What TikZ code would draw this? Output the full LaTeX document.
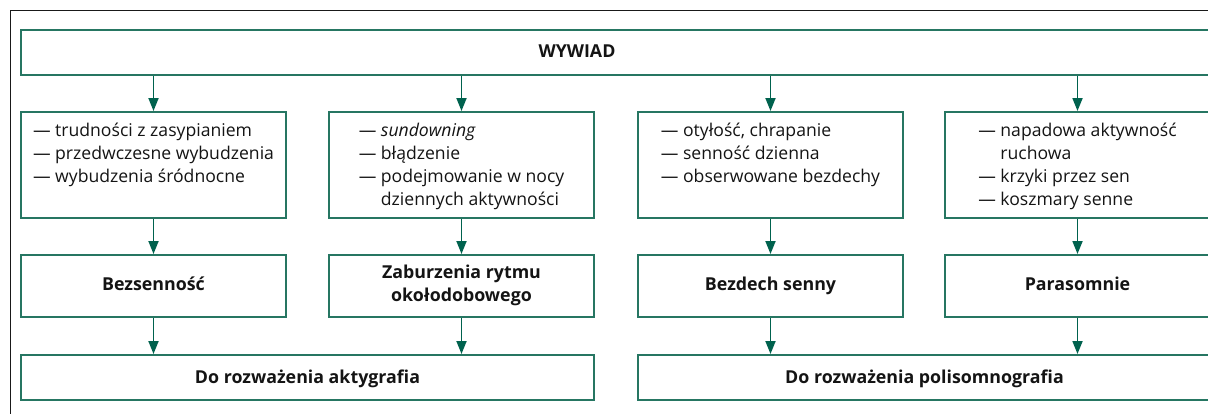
\documentclass[tikz,border=0pt]{standalone}
\usepackage{fontspec}
\setmainfont{Open Sans}
\usetikzlibrary{arrows.meta}
\definecolor{boxgreen}{RGB}{38,118,98}
\definecolor{arrgreen}{RGB}{0,98,78}
\definecolor{txt}{RGB}{20,20,20}
\tikzset{
  box/.style={draw=boxgreen, line width=2pt, inner sep=0pt, anchor=north west, fill=none},
  wbox/.style={box, minimum width=265pt},
  items/.style={anchor=base, inner sep=0pt, text=txt, font=\fontsize{17.6}{23}\selectfont},
  head/.style={anchor=base, inner sep=0pt, text=txt, align=center, font=\fontsize{17.8}{23}\selectfont\bfseries},
  arr/.style={draw=arrgreen, line width=1.8pt, -{Triangle[length=13pt,width=10pt]}},
  frame/.style={draw=black!90, line width=1.6pt}
}
\newcommand{\dsh}{—}
\begin{document}
\begin{tikzpicture}[x=1pt,y=-1pt]
\useasboundingbox (0,0) rectangle (1208,413);
\clip (0,0) rectangle (1208,413);
\fill[white] (0,0) rectangle (1208,413);
\draw[frame] (10.5,430) -- (10.5,10.5) -- (1230,10.5);

% top box
\node[box, minimum width=1200pt, minimum height=45pt] (wy) at (20,29) {};
\node[head] (wyt) at (577,57.5) {WYWIAD};

% row 2
\node[wbox, minimum height=106pt] (b1) at (20,111) {};
\node[wbox, minimum height=106pt] (b2) at (328,111) {};
\node[wbox, minimum height=106pt] (b3) at (637,111) {};
\node[wbox, minimum height=106pt] (b4) at (944,111) {};

\node[items] (t1) at (b1.north |- 0,136) {\begin{tabular}[t]{@{}l@{\ }l@{}}
\dsh & trudności z zasypianiem\\
\dsh & przedwczesne wybudzenia\\
\dsh & wybudzenia śródnocne
\end{tabular}};
\node[items] (t2) at (b2.north |- 0,136) {\begin{tabular}[t]{@{}l@{\ }l@{}}
\dsh & \textit{sundowning}\\
\dsh & błądzenie\\
\dsh & podejmowanie w nocy\\
 & dziennych aktywności
\end{tabular}};
\node[items] (t3) at (b3.north |- 0,136) {\begin{tabular}[t]{@{}l@{\ }l@{}}
\dsh & otyłość, chrapanie\\
\dsh & senność dzienna\\
\dsh & obserwowane bezdechy
\end{tabular}};
\node[items] (t4) at (b4.north |- 0,136) {\begin{tabular}[t]{@{}l@{\ }l@{}}
\dsh & napadowa aktywność\\
 & ruchowa\\
\dsh & krzyki przez sen\\
\dsh & koszmary senne
\end{tabular}};

% row 3
\node[wbox, minimum height=62pt] (c1) at (20,254) {};
\node[wbox, minimum height=62pt] (c2) at (328,254) {};
\node[wbox, minimum height=62pt] (c3) at (637,254) {};
\node[wbox, minimum height=62pt] (c4) at (944,254) {};
\node[head] (h1) at (c1.north |- 0,290.5) {Bezsenność};
\node[head] (h2) at (c2.north |- 0,278.5) {\begin{tabular}[t]{@{}c@{}}Zaburzenia rytmu\\okołodobowego\end{tabular}};
\node[head] (h3) at (c3.north |- 0,290.5) {Bezdech senny};
\node[head] (h4) at (c4.north |- 0,290.5) {Parasomnie};

% row 4
\node[box, minimum width=573pt, minimum height=45pt] (d1) at (20,354) {};
\node[box, minimum width=573pt, minimum height=45pt] (d2) at (637,354) {};
\node[head] (k1) at (d1.north |- 0,383) {Do rozważenia aktygrafia};
\node[head] (k2) at (d2.north |- 0,383) {Do rozważenia polisomnografia};

% arrows
\foreach \b in {b1,b2,b3,b4}{
  \draw[arr] (wy.south -| \b.north) -- (\b.north);
}
\draw[arr] (b1.south) -- (c1.north);
\draw[arr] (b2.south) -- (c2.north);
\draw[arr] (b3.south) -- (c3.north);
\draw[arr] (b4.south) -- (c4.north);
\draw[arr] (c1.south) -- (c1.south |- d1.north);
\draw[arr] (c2.south) -- (c2.south |- d1.north);
\draw[arr] (c3.south) -- (c3.south |- d2.north);
\draw[arr] (c4.south) -- (c4.south |- d2.north);
\end{tikzpicture}
\end{document}
